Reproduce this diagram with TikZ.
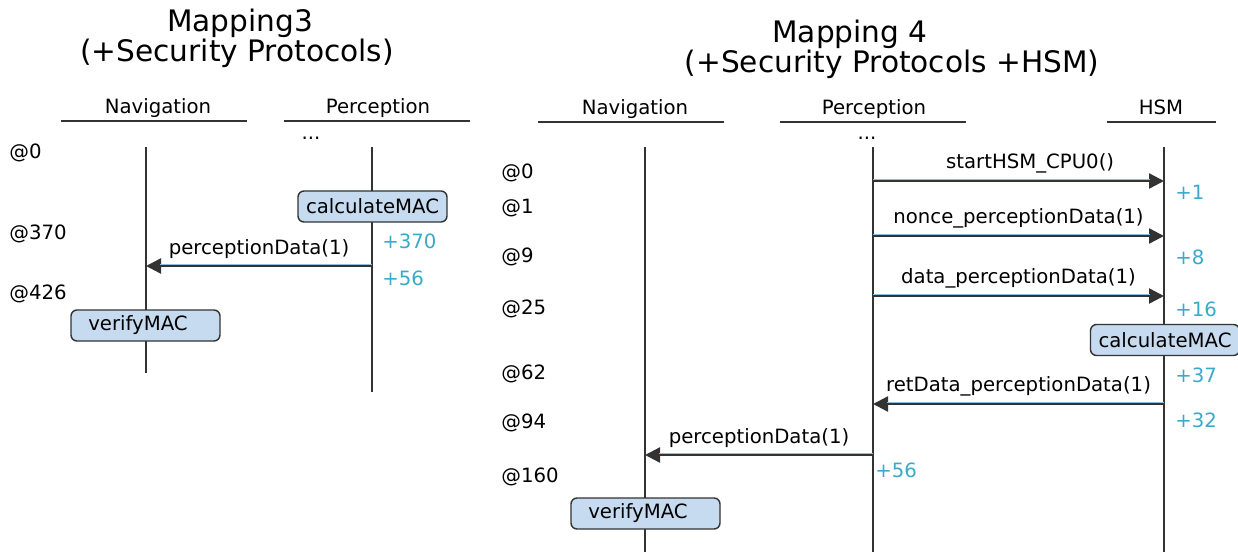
\documentclass[tikz,border=0pt]{standalone}
\usepackage{fontspec}
\setmainfont{DejaVu Sans}
\usepackage{xcolor}
\usetikzlibrary{arrows.meta,positioning}

\definecolor{inkgray}{HTML}{333333}
\definecolor{boxblue}{HTML}{C6DBEF}
\definecolor{deltablue}{HTML}{3AAAC9}
\definecolor{tintblue}{HTML}{8CC0DC}

\begin{document}
\begin{tikzpicture}[x=0.5pt, y=-0.5pt,
    every node/.style={font=\fontsize{9.85}{11.8}\selectfont},
    title/.style={font=\fontsize{14.8}{17}\selectfont, anchor=base},
    head/.style={anchor=base},
    headline/.style={draw=inkgray, line width=1pt},
    life/.style={draw=inkgray, line width=0.75pt},
    msg/.style={draw=inkgray, line width=1.2pt, -{Triangle[length=7.5pt,width=7.5pt]},
        postaction={draw=tintblue, line width=0.55pt, -, shorten >=7pt, transform canvas={yshift=0.8pt}}},
    call/.style={draw=inkgray, line width=0.7pt, fill=boxblue, rounded corners=3pt,
        minimum width=74.5pt, minimum height=15.5pt, inner sep=0pt},
    tstamp/.style={anchor=west, inner sep=0pt},
    delta/.style={anchor=west, inner sep=0pt, text=deltablue}]
    \useasboundingbox (0,0) rectangle (1238,552);

    % Mapping 3
    \node[title] (t3a) at (240,31) {Mapping3};
    \node[title] (t3b) at (237,61) {(+Security Protocols)};
    \node[head] (nav3) at (158,113) {Navigation};
    \node[head] (per3) at (378,113) {Perception};
    \draw[headline] (61,121) -- (247,121);
    \draw[headline] (284,121) -- (470,121);
    \node[head] (dots3) at (311,139) {...};
    \draw[life] (146,147) -- (146,373);
    \draw[life] (372,147) -- (372,392);

    \node[tstamp] (at3a) at (9,153) {@0};
    \node[tstamp] (at3b) at (9,234) {@370};
    \node[tstamp] (at3c) at (9,294) {@426};

    \node[call] (cm3) at (372.5,206.5) {calculateMAC};
    \coordinate (p3m) at (372,266);
    \coordinate (n3m) at (146,266);
    \draw[msg] (p3m) -- node[above] (l3m) {perceptionData(1)} (n3m);
    \node[delta] (d3a) at (382,241) {+370};
    \node[delta] (d3b) at (382,278) {+56};
    \node[call] (vm3) at (145.5,325.5) {verifyMAC\hspace*{7.5pt}};

    % Mapping 4
    \node[title] (t4a) at (850,42) {Mapping 4};
    \node[title] (t4b) at (892,72) {(+Security Protocols +HSM)};
    \node[head] (nav4) at (635,114) {Navigation};
    \node[head] (per4) at (874,114) {Perception};
    \node[head] (hsm4) at (1161,114) {HSM};
    \draw[headline] (538,122) -- (724,122);
    \draw[headline] (780,122) -- (966,122);
    \draw[headline] (1107,122) -- (1216,122);
    \node[head] (dots4) at (867,139) {...};
    \draw[life] (645,147) -- (645,552);
    \draw[life] (873,147) -- (873,552);
    \draw[life] (1164,147) -- (1164,552);

    \node[tstamp] (at4a) at (501,173) {@0};
    \node[tstamp] (at4b) at (501,208) {@1};
    \node[tstamp] (at4c) at (501,257) {@9};
    \node[tstamp] (at4d) at (501,309) {@25};
    \node[tstamp] (at4e) at (501,374) {@62};
    \node[tstamp] (at4f) at (501,423) {@94};
    \node[tstamp] (at4g) at (501,477) {@160};

    \coordinate (p4a) at (873,181);
    \coordinate (h4a) at (1164,181);
    \coordinate (p4b) at (873,236);
    \coordinate (h4b) at (1164,236);
    \coordinate (p4c) at (873,296);
    \coordinate (h4c) at (1164,296);
    \coordinate (h4d) at (1164,404);
    \coordinate (p4d) at (873,404);
    \coordinate (p4e) at (873,455);
    \coordinate (n4e) at (645,455);

    \draw[msg] (p4a) -- node[above, pos=0.54] (l4a) {startHSM\_CPU0()} (h4a);
    \draw[msg] (p4b) -- node[above] (l4b) {nonce\_perceptionData(1)} (h4b);
    \draw[msg] (p4c) -- node[above] (l4c) {data\_perceptionData(1)} (h4c);
    \node[call] (cm4) at (1165,340) {calculateMAC};
    \draw[msg] (h4d) -- node[above] (l4d) {retData\_perceptionData(1)} (p4d);
    \draw[msg] (p4e) -- node[above] (l4e) {perceptionData(1)} (n4e);
    \node[call] (vm4) at (645.5,513.5) {verifyMAC\hspace*{7.5pt}};

    \node[delta] (d4a) at (1175,192) {+1};
    \node[delta] (d4b) at (1175,257) {+8};
    \node[delta] (d4c) at (1175,309) {+16};
    \node[delta] (d4d) at (1175,375) {+37};
    \node[delta] (d4e) at (1175,420) {+32};
    \node[delta] (d4f) at (875,470) {+56};
\end{tikzpicture}
\end{document}
